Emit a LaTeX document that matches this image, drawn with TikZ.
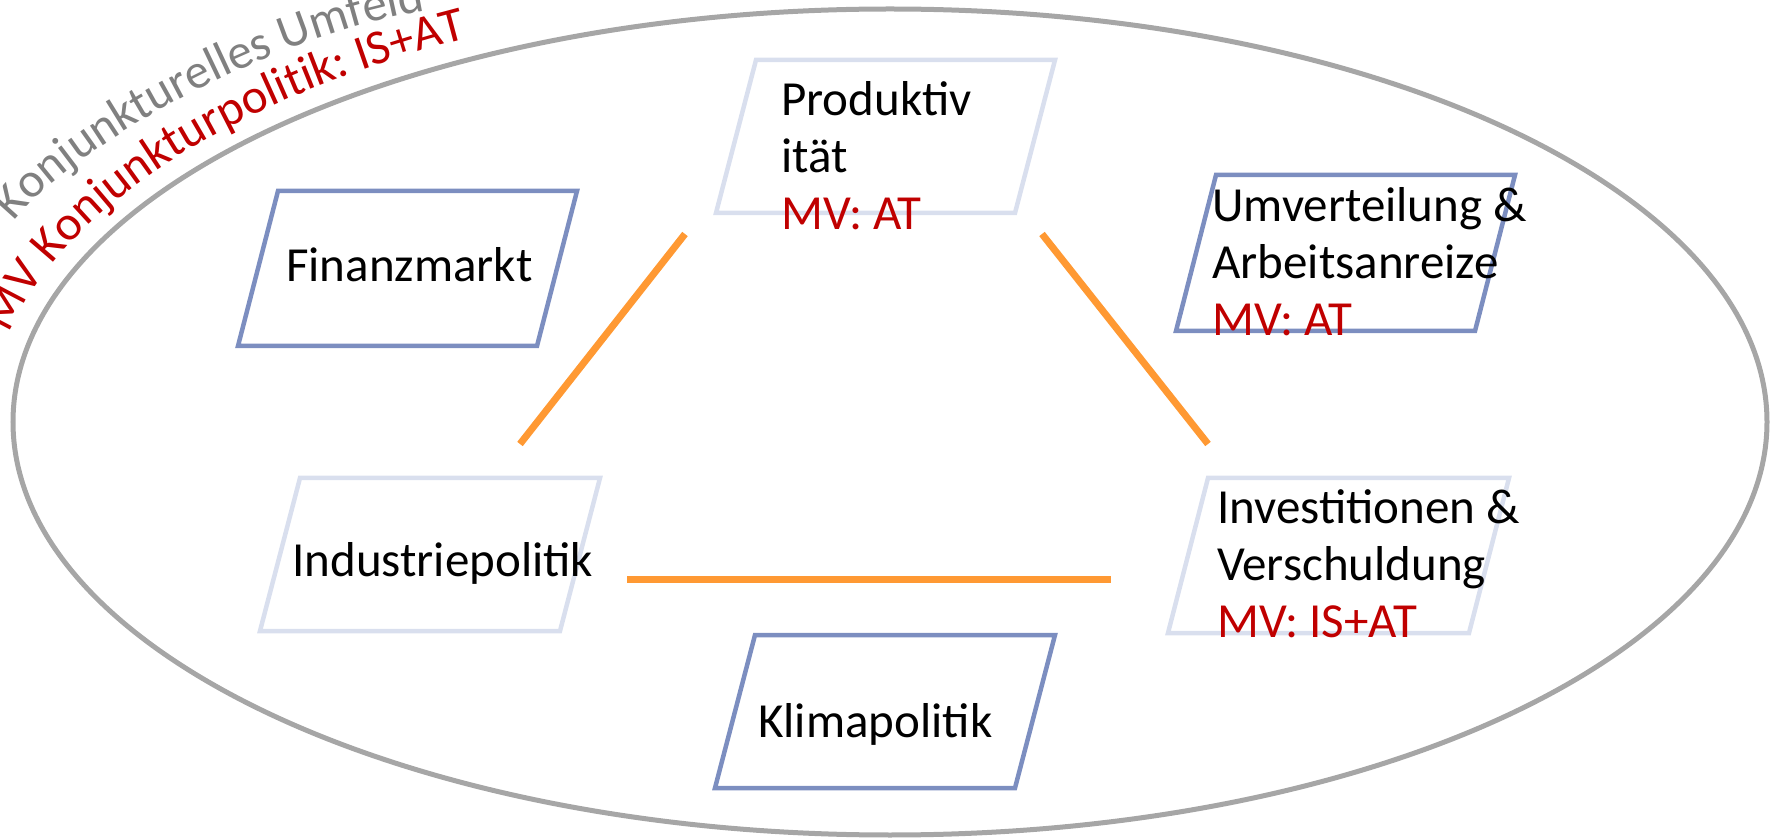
\documentclass[tikz,border=0pt]{standalone}
\usepackage{fontspec}
\setmainfont{Carlito}
\usetikzlibrary{decorations.text}
\definecolor{boxdark}{RGB}{124,142,192}
\definecolor{boxlight}{RGB}{217,223,238}
\definecolor{linkorange}{RGB}{255,153,51}
\definecolor{rimgray}{RGB}{166,166,166}
\definecolor{textgray}{RGB}{128,128,128}
\definecolor{mvred}{RGB}{192,0,0}
\tikzset{
  box/.style={line width=4.5pt, line join=miter},
  darkbox/.style={box, draw=boxdark},
  lightbox/.style={box, draw=boxlight},
  lbl/.style={anchor=base west, inner sep=0pt, font=\fontsize{49}{57}\selectfont},
  link/.style={draw=linkorange, line width=7pt},
  rim/.style={draw=rimgray, line width=5pt},
}
\newcommand\lines[1]{\begin{tabular}[t]{@{}l@{}}#1\end{tabular}}
\begin{document}
\begin{tikzpicture}[x=1pt,y=1pt]
\useasboundingbox (0,0) rectangle (1773,839);
% environment ellipse
\draw[rim] (890,417) ellipse [x radius=877, y radius=413];
% curved labels
\coordinate (gs) at (14,617);
\coordinate (ge) at (440,830);
\path[decorate, decoration={text along path, text align=left,
  text={|\fontsize{49}{57}\selectfont\color{textgray}|Konjunkturelles Umfeld}}]
  (gs) .. controls (76,696) and (282,810) .. (ge);
\path[decorate, decoration={text along path, text align=left,
  text={|\fontsize{49}{57}\selectfont\color{mvred}|MV Konjunkturpolitik: IS+AT}}]
  (890,417) ++(168.3:899 and 435) arc[start angle=168.3, end angle=92, x radius=899, y radius=435];
% boxes
\draw[darkbox]  (278,648) -- (577,648) -- (537,493) -- (238,493) -- cycle;
\draw[lightbox] (756,779) -- (1055,779) -- (1015,626) -- (716,626) -- cycle;
\draw[darkbox]  (1216,664) -- (1515,664) -- (1475,508) -- (1176,508) -- cycle;
\draw[lightbox] (300,361) -- (600,361) -- (560,208) -- (260,208) -- cycle;
\draw[lightbox] (1208,361) -- (1509,361) -- (1469,206) -- (1168,206) -- cycle;
\draw[darkbox]  (755,204) -- (1055,204) -- (1015,51) -- (715,51) -- cycle;
% connector end points
\coordinate (pl) at (685,605);
\coordinate (il) at (520,395);
\coordinate (pr) at (1042,605);
\coordinate (vr) at (1208,395);
\coordinate (ih) at (627,259);
\coordinate (vh) at (1111,259);
\draw[link] (pl) -- (il);
\draw[link] (pr) -- (vr);
\draw[link] (ih) -- (vh);
% texts
\node[lbl] (fin) at (286,557) {Finanzmarkt};
\node[lbl] (prod) at (781,723) {\lines{Produktiv\\ität\\\color{mvred}MV: AT}};
\node[lbl] (umv) at (1212,617) {\lines{Umverteilung \&\\Arbeitsanreize\\\color{mvred}MV: AT}};
\node[lbl] (ind) at (292,262) {Industriepolitik};
\node[lbl] (inv) at (1217,315) {\lines{Investitionen \&\\Verschuldung\\\color{mvred}MV: IS+AT}};
\node[lbl] (klima) at (758,102) {Klimapolitik};
\end{tikzpicture}
\end{document}
